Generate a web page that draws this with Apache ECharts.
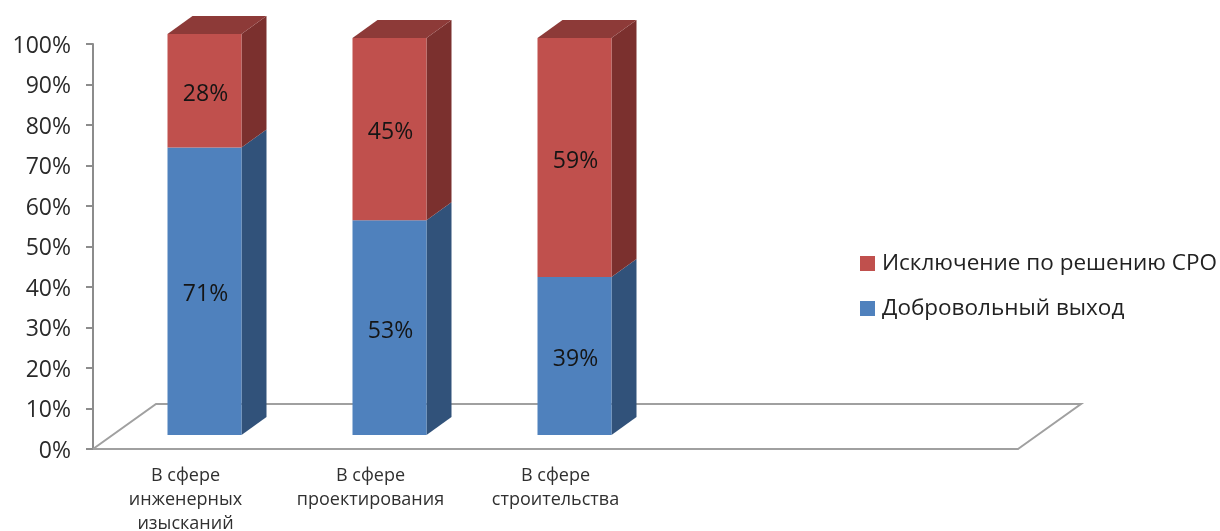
<!DOCTYPE html>
<html><head><meta charset="utf-8">
<style>html,body{margin:0;padding:0;background:#fff}#c{width:1220px;height:531px}</style>
<script src="https://cdn.jsdelivr.net/npm/echarts@6/dist/echarts.min.js"></script>
</head><body><div id="c"></div>
<script>
const categories = ['В сфере\nинженерных\nизысканий', 'В сфере\nпроектирования', 'В сфере\nстроительства', '', ''];
const voluntaryName = 'Добровольный выход';
const expelledName = 'Исключение по решению СРО';
const voluntary = [71, 53, 39];
const expelled = [28, 45, 59];

const FONT = '"Open Sans", sans-serif';
const floorDepth = [63, -45], barDepth = [25, -18], barShift = [19, -14];

const chart = echarts.init(document.getElementById('c'), null, {renderer: 'canvas'});

function poly(points, fill) {
  return {type: 'polygon', shape: {points}, style: {fill}, silent: true};
}
function stackItem(front, side, top, drawTop) {
  return function (params, api) {
    const cat = api.value(0), lo = api.value(1), hi = api.value(2);
    const w = api.size([1, 0])[0] * 0.4;
    const a = api.coord([cat, lo]), b = api.coord([cat, hi]);
    const x0 = a[0] + barShift[0] - w / 2, x1 = x0 + w;
    const yLo = a[1] + barShift[1], yHi = b[1] + barShift[1];
    const dx = barDepth[0], dy = barDepth[1];
    const children = [
      poly([[x1, yLo], [x1 + dx, yLo + dy], [x1 + dx, yHi + dy], [x1, yHi]], side)
    ];
    if (drawTop) children.push(poly([[x0, yHi], [x0 + dx, yHi + dy], [x1 + dx, yHi + dy], [x1, yHi]], top));
    children.push(poly([[x0, yLo], [x1, yLo], [x1, yHi], [x0, yHi]], front));
    children.push({
      type: 'text', silent: true,
      style: {x: (x0 + x1) / 2 + 1, y: (yLo + yHi) / 2 + 3.5, text: (hi - lo) + '%', align: 'center', verticalAlign: 'middle',
        font: '23px ' + FONT, fill: '#151515'}
    });
    return {type: 'group', children};
  };
}
function floorItem(params, api) {
  const l = api.coord([0, 0]), w = api.size([1, 0])[0] * categories.length;
  const x0 = l[0] - api.size([1, 0])[0] / 2, y0 = l[1];
  return {
    type: 'polyline', silent: true,
    shape: {points: [[x0, y0], [x0 + floorDepth[0], y0 + floorDepth[1]], [x0 + w + floorDepth[0], y0 + floorDepth[1]], [x0 + w, y0]]},
    style: {stroke: '#a0a0a0', lineWidth: 2, fill: 'none'}
  };
}

chart.setOption({
  animation: false,
  backgroundColor: '#ffffff',
  textStyle: {fontFamily: FONT},
  grid: {left: 93, right: 202, top: 44, bottom: 82, containLabel: false, outerBoundsMode: 'none'},
  legend: {
    orient: 'vertical', left: 855, top: 247, itemWidth: 15, itemHeight: 15, itemGap: 22, icon: 'rect',
    data: [expelledName, voluntaryName],
    textStyle: {fontSize: 22.5, color: '#222222', fontFamily: FONT, padding: [0, 0, 0, 2]}
  },
  xAxis: {
    type: 'category', data: categories,
    axisLine: {show: true, lineStyle: {color: '#a0a0a0', width: 2}},
    axisTick: {show: false},
    axisLabel: {interval: 0, fontSize: 18, lineHeight: 24, color: '#303030', margin: 15, fontFamily: FONT}
  },
  yAxis: {
    type: 'value', min: 0, max: 100, interval: 10,
    splitLine: {show: false},
    axisLine: {show: true, lineStyle: {color: '#8c8c8c', width: 2}},
    axisTick: {show: true, length: 7, lineStyle: {color: '#8c8c8c', width: 2}},
    axisLabel: {formatter: '{value}%', fontSize: 23, color: '#2a2a2a', margin: 22, verticalAlign: 'top', lineHeight: 4, fontFamily: FONT}
  },
  series: [
    {type: 'custom', name: '_floor', silent: true, data: [[0]], encode: {x: 0}, renderItem: floorItem, z: 1, clip: false},
    {type: 'custom', name: voluntaryName, coordinateSystem: 'cartesian2d', clip: false, z: 2,
      itemStyle: {color: '#4F81BD'},
      encode: {x: 0, y: [1, 2]},
      data: voluntary.map((v, i) => [i, 0, v]),
      renderItem: stackItem('#4F81BD', '#31527A', '#3A5F8C', false)},
    {type: 'custom', name: expelledName, coordinateSystem: 'cartesian2d', clip: false, z: 3,
      itemStyle: {color: '#C0504D'},
      encode: {x: 0, y: [1, 2]},
      data: expelled.map((v, i) => [i, voluntary[i], voluntary[i] + v]),
      renderItem: stackItem('#C0504D', '#7B302E', '#8D3A38', true)}
  ]
});
</script></body></html>
